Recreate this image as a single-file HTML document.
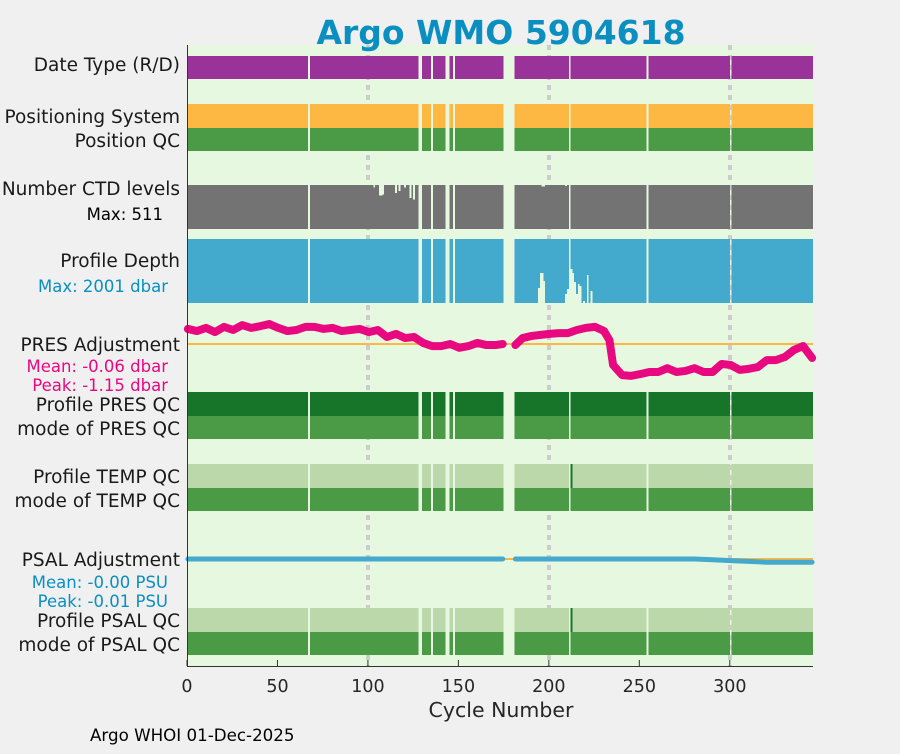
<!DOCTYPE html>
<html><head><meta charset="utf-8"><style>
body{margin:0;background:#f0f0f0;width:900px;height:750px;overflow:hidden;font-family:"DejaVu Sans","Liberation Sans",sans-serif;}
svg text{font-family:"DejaVu Sans","Liberation Sans",sans-serif;}
</style></head><body>
<svg id="chart" width="900" height="750" xmlns="http://www.w3.org/2000/svg">
<rect x="187" y="45" width="626" height="621" fill="#e6f8e0"/>
<g id="marks" shape-rendering="crispEdges"></g>
<g id="lines"></g>
<text x="501" y="44" text-anchor="middle" font-size="33" font-weight="bold" fill="#0a8fc0">Argo WMO 5904618</text>
<g font-size="18.5" fill="#1a1a1a" text-anchor="end">
<text x="180" y="71">Date Type (R/D)</text>
<text x="180" y="123">Positioning System</text>
<text x="180" y="147">Position QC</text>
<text x="180" y="195">Number CTD levels</text>
<text x="163" y="220" font-size="16.5" fill="#000">Max: 511</text>
<text x="180" y="267">Profile Depth</text>
<text x="168" y="292" font-size="16.5" fill="#0a8fc0">Max: 2001 dbar</text>
<text x="180" y="351">PRES Adjustment</text>
<text x="168" y="372" font-size="16.5" fill="#e8087f">Mean: -0.06 dbar</text>
<text x="168" y="391" font-size="16.5" fill="#e8087f">Peak: -1.15 dbar</text>
<text x="180" y="411">Profile PRES QC</text>
<text x="180" y="435">mode of PRES QC</text>
<text x="180" y="483">Profile TEMP QC</text>
<text x="180" y="507">mode of TEMP QC</text>
<text x="180" y="566">PSAL Adjustment</text>
<text x="168" y="588" font-size="16.5" fill="#0a8fc0">Mean: -0.00 PSU</text>
<text x="168" y="607" font-size="16.5" fill="#0a8fc0">Peak: -0.01 PSU</text>
<text x="180" y="627">Profile PSAL QC</text>
<text x="180" y="651">mode of PSAL QC</text>
</g>
<line x1="187.5" y1="45" x2="187.5" y2="667" stroke="#333" stroke-width="1"/>
<line x1="187" y1="666.5" x2="813" y2="666.5" stroke="#333" stroke-width="1"/>
<g id="xticks"></g>
<text x="501" y="717" text-anchor="middle" font-size="20.5" fill="#262626">Cycle Number</text>
<text x="90" y="741" font-size="16.7" fill="#000">Argo WHOI 01-Dec-2025</text>
</svg>
<script>
const maxCycle = 346;
const tickValues = [0,50,100,150,200,250,300];
const missingCycles = [67,128,129,135,143,144,147,175,176,177,178,179,180,211,254,300];
const presCycles = [0,5,10,15,20,25,30,35,40,45,50,55,60,65,70,75,80,85,90,95,100,105,110,115,120,125,130,135,140,145,150,155,160,165,170,174,181,185,190,195,200,205,210,215,220,225,230,233,235,240,245,250,255,260,265,270,275,280,285,290,295,300,305,310,315,320,325,330,335,340,345];
const presValues = [0.43,0.37,0.46,0.34,0.49,0.40,0.54,0.46,0.51,0.57,0.46,0.37,0.40,0.49,0.49,0.43,0.46,0.37,0.40,0.43,0.34,0.40,0.20,0.29,0.17,0.20,0.03,-0.06,-0.06,0.0,-0.11,-0.06,0.03,-0.03,-0.03,0.0,-0.03,0.17,0.23,0.26,0.29,0.31,0.31,0.40,0.46,0.49,0.37,0.11,-0.6,-0.89,-0.91,-0.86,-0.8,-0.8,-0.69,-0.8,-0.77,-0.69,-0.8,-0.8,-0.57,-0.6,-0.74,-0.71,-0.66,-0.46,-0.46,-0.37,-0.17,-0.06,-0.4];
const psalCycles = [0,50,100,150,174,181,200,250,280,290,300,310,320,330,345];
const psalValues = [0,0,0,0,0,0,0,0,0,-0.001,-0.002,-0.003,-0.004,-0.004,-0.004];
const ctdDipCycles = [103,106,107,108,115,117,120,123,125,196,197,209];
const ctdDipValues = [480,390,390,400,420,440,480,360,340,495,495,500];
const depthDipCycles = [194,195,196,197,209,210,212,213,214,215,216,217,219,221,223];
const depthDipValues = [1532,1063,1063,1313,1720,1563,938,1063,1344,1720,1407,1470,1938,1125,1626];

const NS="http://www.w3.org/2000/svg";
const marks=document.getElementById('marks');
const linesG=document.getElementById('lines');
const X0=187,X1=813;
function xs(c){return X0+(c)/maxCycle*(X1-X0);}
function mk(tag,attrs,parent){const e=document.createElementNS(NS,tag);for(const k in attrs)e.setAttribute(k,attrs[k]);(parent||marks).appendChild(e);return e;}
[100,200,300].forEach(v=>{
 const l=mk('line',{x1:xs(v),x2:xs(v),y1:45,y2:666,stroke:'#cccccc','stroke-width':4,'stroke-dasharray':'5 5'});
 
 
});
const rows=[
 {name:'date-type-bar',y:56,h:23,c:'#993399'},
 {name:'positioning-system-bar',y:104,h:24,c:'#fdb844'},
 {name:'position-qc-bar',y:128,h:23,c:'#4a9a46'},
 {name:'profile-pres-qc-bar',y:392,h:24,c:'#167529'},
 {name:'mode-pres-qc-bar',y:416,h:23,c:'#4a9a46'},
 {name:'profile-temp-qc-bar',y:464,h:24,c:'#bad8a9'},
 {name:'mode-temp-qc-bar',y:488,h:23,c:'#4a9a46'},
 {name:'profile-psal-qc-bar',y:608,h:24,c:'#bad8a9'},
 {name:'mode-psal-qc-bar',y:632,h:23,c:'#4a9a46'}
];
function runs(){const r=[];let s=0;for(let c=0;c<=maxCycle;c++){if(c==maxCycle||missingCycles.includes(c)){if(c>s)r.push([s,c]);s=c+1;}}return r;}
const R=runs();
rows.forEach(rw=>{R.forEach(([a,b])=>{
 const e=mk('rect',{x:xs(a),y:rw.y,width:xs(b)-xs(a),height:rw.h,fill:rw.c});
 
 
});});
[464,608].forEach(y=>{const e=mk('rect',{x:xs(212),y:y,width:2,height:24,fill:'#167529'});
 
 });
const ctdTop=185,ctdH=44;
R.forEach(([a,b])=>{
 const e=mk('rect',{x:xs(a),y:ctdTop,width:xs(b)-xs(a),height:ctdH,fill:'#737373'});
 
 
});
ctdDipCycles.forEach((c,i)=>{
 const h=ctdH*(1-ctdDipValues[i]/511);
 const e=mk('rect',{x:xs(c),y:ctdTop,width:xs(c+1)-xs(c),height:h,fill:'#e6f8e0'});
 
 
});
const dTop=239,dH=64;
R.forEach(([a,b])=>{
 const e=mk('rect',{x:xs(a),y:dTop,width:xs(b)-xs(a),height:dH,fill:'#43a9cd'});
 
 
});
depthDipCycles.forEach((c,i)=>{
 const h=dH*depthDipValues[i]/2001;
 const e=mk('rect',{x:xs(c),y:dTop+h,width:xs(c+1)-xs(c),height:dH-h,fill:'#e6f8e0'});
 
 
});
[[344,'pres-zero-line'],[559,'psal-zero-line']].forEach(([y,n])=>{const e=mk('line',{x1:X0,x2:X1,y1:y,y2:y,stroke:'#fdb844','stroke-width':2},linesG);
 
 });
function bigGapBetween(a,b){let run=0;for(let c=a+1;c<b;c++){if(missingCycles.includes(c)){run++;if(run>=3)return true;}else run=0;}return false;}
function drawSeries(cs,vs,ys,color,w,name){
 let segs=[[]];
 for(let i=0;i<cs.length;i++){
  if(i>0&&bigGapBetween(cs[i-1],cs[i]))segs.push([]);
  segs[segs.length-1].push(xs(cs[i]+0.5)+','+ys(vs[i]));
 }
 segs.forEach(pts=>{if(!pts.length)return;
  const e=mk('polyline',{points:pts.join(' '),fill:'none',stroke:color,'stroke-width':w,'stroke-linejoin':'round','stroke-linecap':'round'},linesG);
  
  
 });
}
drawSeries(presCycles,presValues,v=>344-v*35,'#e8087f',8,'pres-adjustment-line');
drawSeries(psalCycles,psalValues,v=>559-v*800,'#43a9cd',5,'psal-adjustment-line');
const xt=document.getElementById('xticks');
tickValues.forEach(v=>{
 const l=mk('line',{x1:xs(v),x2:xs(v),y1:660,y2:666,stroke:'#333'},xt);
 
 
 const t=mk('text',{x:xs(v),y:692,'text-anchor':'middle','font-size':17.5,fill:'#262626'},xt);
 t.textContent=v;
 
 
});
</script>
</body></html>
